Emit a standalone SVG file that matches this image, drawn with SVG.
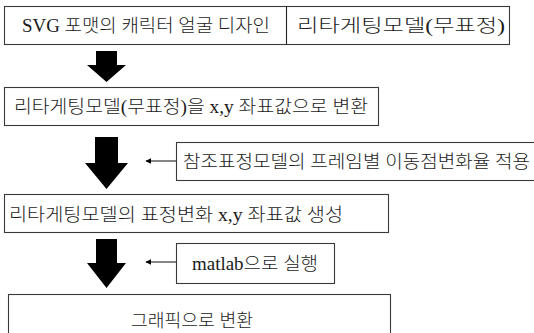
<svg xmlns="http://www.w3.org/2000/svg" width="534" height="333" viewBox="0 0 534 333">
<defs>
<style>
.box{fill:#fff;stroke:#3a3a3a;stroke-width:1.1}
.t{font-family:"Liberation Serif","Noto Sans CJK KR",serif;font-size:18px;font-weight:300;fill:#1a1a1a}
.big{fill:#000}
.ln{stroke:#222;stroke-width:1.1;fill:none}
</style>
<marker id="ah" viewBox="0 0 10 10" refX="9" refY="5" markerWidth="6" markerHeight="6" orient="auto-start-reverse" markerUnits="userSpaceOnUse">
<path d="M0,0 L10,5 L0,10 z" fill="#000"/>
</marker>
</defs>
<rect width="534" height="333" fill="#fff"/>
<g id="n1">
<rect class="box" x="4.5" y="6.5" width="505" height="38"/>
<line class="ln" x1="286.5" y1="6.5" x2="286.5" y2="44.5"/>
<text class="t" x="22" y="32" textLength="248" lengthAdjust="spacingAndGlyphs">SVG 포맷의 캐릭터 얼굴 디자인</text>
<text class="t" x="297" y="32" textLength="208" lengthAdjust="spacingAndGlyphs">리타게팅모델(무표정)</text>
</g>
<g id="n2">
<rect class="box" x="4.5" y="87.5" width="374" height="38"/>
<text class="t" x="14" y="113" textLength="354" lengthAdjust="spacingAndGlyphs">리타게팅모델(무표정)을 x,y 좌표값으로 변환</text>
</g>
<g id="n3">
<rect class="box" x="176.5" y="142.5" width="370" height="38"/>
<text class="t" x="183" y="168" textLength="347" lengthAdjust="spacingAndGlyphs">참조표정모델의 프레임별 이동점변화율 적용</text>
</g>
<g id="n4">
<rect class="box" x="4.5" y="194.5" width="384" height="38"/>
<text class="t" x="9" y="221" textLength="334" lengthAdjust="spacingAndGlyphs">리타게팅모델의 표정변화 x,y 좌표값 생성</text>
</g>
<g id="n5">
<rect class="box" x="176.5" y="243.5" width="158" height="40"/>
<text class="t" x="192" y="270" textLength="126" lengthAdjust="spacingAndGlyphs">matlab으로 실행</text>
</g>
<g id="n6">
<rect class="box" x="8.5" y="294.5" width="382" height="50"/>
<text class="t" x="131" y="327" textLength="122" lengthAdjust="spacingAndGlyphs">그래픽으로 변환</text>
</g>
<g id="connectors">
<path class="big" d="M96,51 H117 V65 H126 L106.5,82 L87,65 H96 Z"/>
<path class="big" d="M95,137 H118 V163 H128 L106.5,189 L85,163 H95 Z"/>
<path class="big" d="M96,239 H117 V263 H126 L106.5,288 L87,263 H96 Z"/>
<line class="ln" x1="176" y1="161" x2="146" y2="161" marker-end="url(#ah)"/>
<line class="ln" x1="176" y1="262" x2="146" y2="262" marker-end="url(#ah)"/>
</g>
</svg>
